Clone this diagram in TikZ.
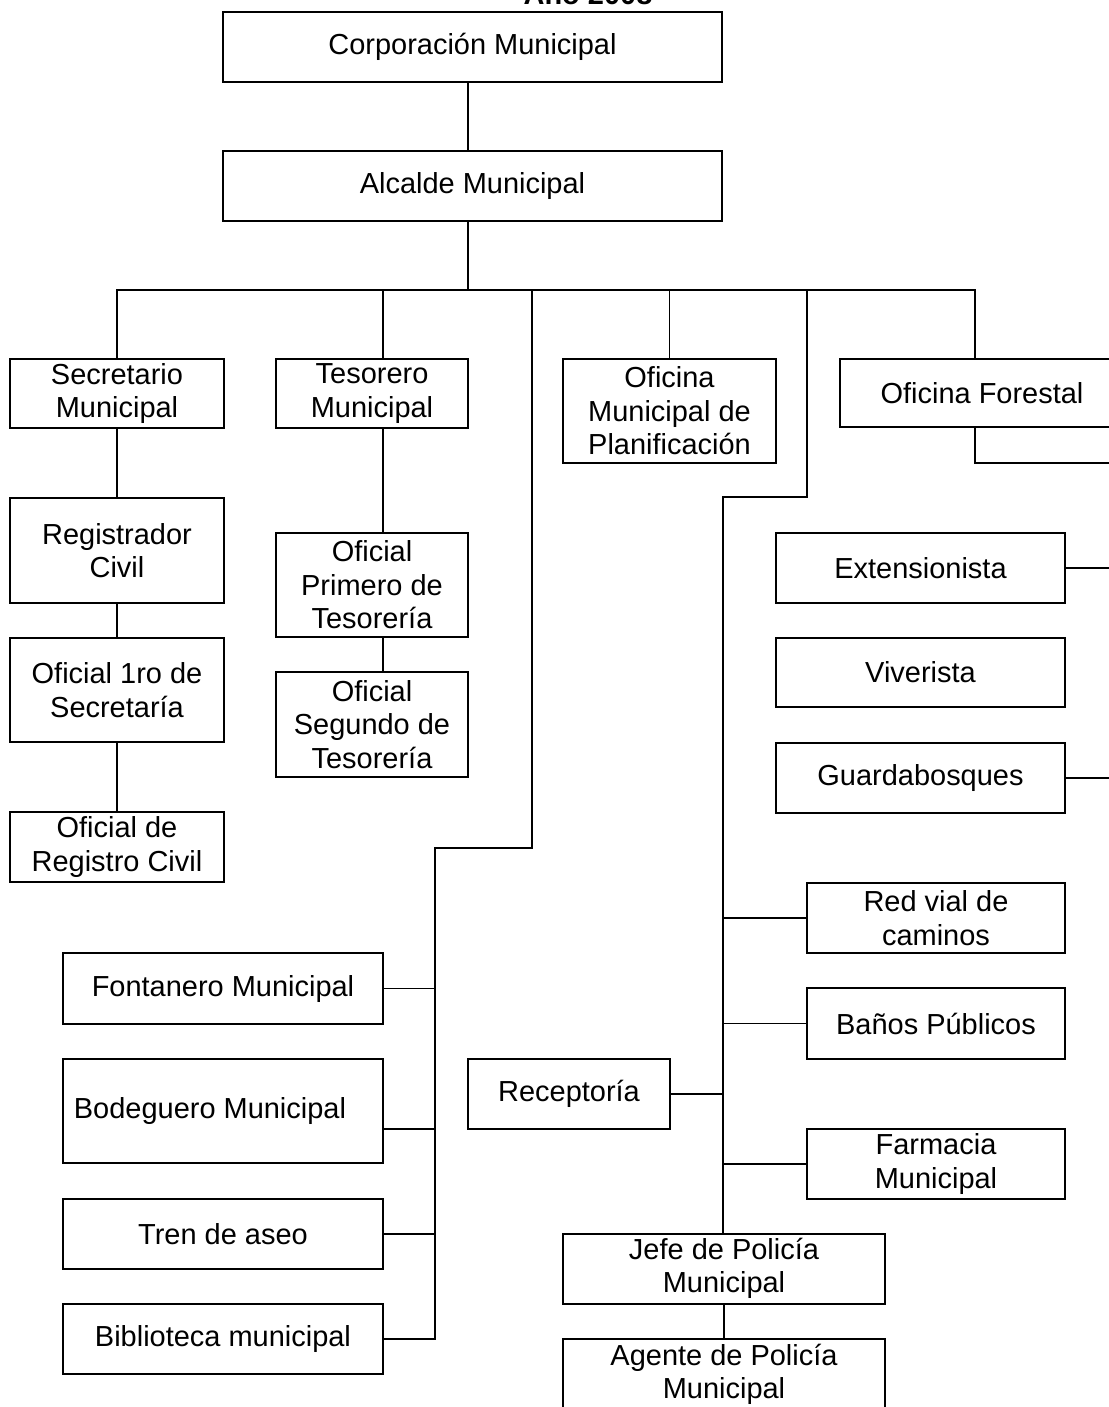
\documentclass[tikz,border=0pt]{standalone}
\usepackage{fontspec}
\setmainfont{Liberation Sans}
\newcommand{\orgfont}{\fontsize{20.6}{23.9}\selectfont}
\tikzset{
  box/.style={draw, line width=1.4pt, inner sep=0pt, align=center, font=\orgfont},
  wh/.style 2 args={minimum width=#1*0.025cm, minimum height=#2*0.025cm},
  link/.style={line width=1.4pt}
}
\begin{document}
\begin{tikzpicture}[x=0.025cm,y=-0.025cm]
\useasboundingbox (0,0) rectangle (1109,1407);
\node[font=\orgfont\bfseries, anchor=base] (title) at (588,5) {Año 2008};
%top
\node[box, wh={499}{70}] (corp) at (472.5,47) {Corporación Municipal};
\node[box, wh={499}{70}] (alc) at (472.5,186) {Alcalde Municipal};
%second row
\node[box, wh={214}{69}] (secr) at (117,393.5) {Secretario\\Municipal};
\node[box, wh={192}{69}] (teso) at (372,393.5) {Tesorero\\Municipal};
\node[box, wh={213}{104}] (omp) at (669.5,411) {Oficina\\Municipal de\\Planificación};
\node[box, wh={284}{68}] (ofor) at (982,393) {Oficina Forestal};
%secretaria
\node[box, wh={214}{105}] (reg) at (117,550.5) {Registrador\\Civil};
\node[box, wh={214}{104}] (of1) at (117,690) {Oficial 1ro de\\Secretaría};
\node[box, wh={214}{70}] (orc) at (117,847) {Oficial de\\Registro Civil};
%tesoreria
\node[box, wh={192}{104}] (op1) at (372,585) {Oficial\\Primero de\\Tesorería};
\node[box, wh={192}{105}] (os2) at (372,724.5) {Oficial\\Segundo de\\Tesorería};
%forestal
\node[box, wh={289}{70}] (ext) at (920.5,568) {Extensionista};
\node[box, wh={289}{69}] (viv) at (920.5,672.5) {Viverista};
\node[box, wh={289}{70}] (gua) at (920.5,778) {Guardabosques};
%right branch
\node[box, wh={258}{70}] (red) at (936,918) {Red vial de\\caminos};
\node[box, wh={258}{71}] (ban) at (936,1023.5) {Baños Públicos};
\node[box, wh={258}{70}] (far) at (936,1164) {Farmacia\\Municipal};
\node[box, wh={202}{70}] (rec) at (569,1094) {Receptoría};
\node[box, wh={322}{70}] (jefe) at (724,1268.5) {Jefe de Policía\\Municipal};
\node[box, wh={322}{71}] (agen) at (724,1374.5) {Agente de Policía\\Municipal};
%left branch
\node[box, wh={320}{71}] (fon) at (223,988.5) {Fontanero Municipal};
\node[box, wh={320}{104}] (bod) at (223,1111) {Bodeguero Municipal\hspace{0.65cm}};
\node[box, wh={320}{70}] (tren) at (223,1234) {Tren de aseo};
\node[box, wh={320}{70}] (bib) at (223,1339) {Biblioteca municipal};
%%%%%%%
\coordinate (bA) at (468,290);
\coordinate (busL) at (117,290);
\coordinate (busR) at (975,290);
\coordinate (bT) at (383,290);
\coordinate (bL) at (532,290);
\coordinate (kL) at (435,848);
\coordinate (bR) at (807,290);
\coordinate (kR) at (723,497);
\coordinate (offR) at (1120,463);

\draw[link] (bA |- corp.south) -- (bA |- alc.north);
\draw[link] (bA |- alc.south) -- (bA);
\draw[link] (secr.north) -- (busL) -- (busR) -- (busR |- ofor.north);
\draw[link] (bT) -- (bT |- teso.north);
\draw[link] (omp.north) -- (omp.north |- busL);
%secretaria
\draw[link] (secr.south) -- (reg.north);
\draw[link] (reg.south) -- (of1.north);
\draw[link] (of1.south) -- (orc.north);
%tesoreria
\draw[link] (bT |- teso.south) -- (bT |- op1.north);
\draw[link] (bT |- op1.south) -- (bT |- os2.north);
%forestal
\draw[link] (busR |- ofor.south) |- (offR);
\draw[link] (ext.east) -- (ext.east -| offR);
\draw[link] (gua.east) -- (gua.east -| offR);
%left branch
\draw[link] (bL) |- (kL) -- (kL |- bib.east) -- (bib.east);
\draw[link] (fon.east) -- (fon.east -| kL);
\draw[link] (bod.east) ++(0,18) coordinate (bodc) -- (bodc -| kL);
\draw[link] (tren.east) -- (tren.east -| kL);
%right branch
\draw[link] (bR) |- (kR) -- (kR |- jefe.north);
\draw[link] (red.west) -- (red.west -| kR);
\draw[link] (ban.west) -- (ban.west -| kR);
\draw[link] (far.west) -- (far.west -| kR);
\draw[link] (rec.east) -- (rec.east -| kR);
\draw[link] (jefe.south) -- (agen.north);
\end{tikzpicture}
\end{document}
